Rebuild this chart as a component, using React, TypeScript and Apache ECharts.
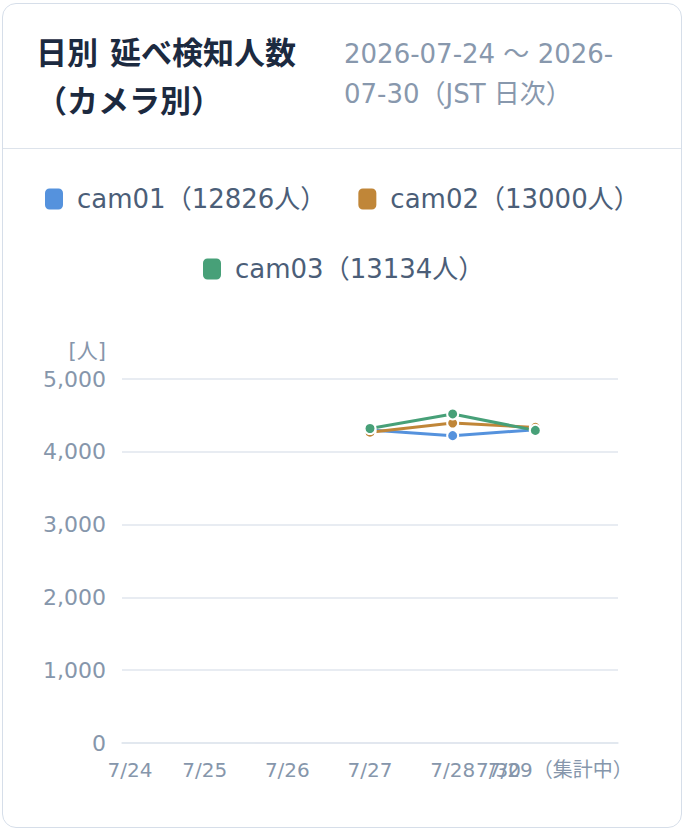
import React, { useEffect, useRef } from 'react';
import * as echarts from 'echarts';

// Daily detections per camera (JST), 7/24 - 7/30. null = no data yet
const dates = ['7/24', '7/25', '7/26', '7/27', '7/28', '7/29（集計中）', '7/30'];
const cameras = ['cam01', 'cam02', 'cam03'];
const cam01 = [null, null, null, 4300, 4222, 4304, null];
const cam02 = [null, null, null, 4270, 4395, 4335, null];
const cam03 = [null, null, null, 4320, 4520, 4294, null];
const totals = [12826, 13000, 13134];
const colors = ['#5592dd', '#c08638', '#47a078'];
const yTicks = [0, 1000, 2000, 3000, 4000, 5000];

const FONT = '"DejaVu Sans", "Noto Sans CJK JP", sans-serif';

const legendName = (i: number) => `${cameras[i]}（${totals[i]}人）`;

// label nudges so the tick labels sit where the original ones do
const labelStyle: Record<string, any> = {
  '7/24': { padding: [0, 0, 0, 16] },
  '7/29（集計中）': { padding: [0, 0, 0, 50] },
  '7/30': { padding: [0, 239, 0, 0] }
};

function DailyCameraChart() {
  const chartRef = useRef<HTMLDivElement>(null);

  useEffect(() => {
    if (!chartRef.current) return;
    const chart = echarts.init(chartRef.current, null, { renderer: 'svg' });

    const legendCommon = {
      orient: 'horizontal' as const,
      icon: 'roundRect',
      padding: 0,
      itemWidth: 18,
      itemHeight: 21,
      itemGap: 32,
      itemStyle: { borderWidth: 0 },
      textStyle: {
        color: '#4b5e78',
        fontSize: 26,
        lineHeight: 28,
        fontFamily: FONT,
        padding: [0, 0, 0, 9]
      }
    };

    const seriesData = [cam01, cam02, cam03];

    const option: echarts.EChartsOption = {
      animation: false,
      textStyle: { fontFamily: FONT },
      legend: [
        { ...legendCommon, left: 45, top: 35, data: [legendName(0), legendName(1)] },
        { ...legendCommon, left: 203, top: 105, data: [legendName(2)] }
      ],
      grid: { left: 122, right: 66, top: 229, bottom: 83 },
      xAxis: {
        type: 'category',
        data: dates.map((d) => (labelStyle[d] ? { value: d, textStyle: labelStyle[d] } : d)),
        boundaryGap: false,
        axisLine: { lineStyle: { color: '#e0e6ee', width: 1.5 } },
        axisTick: { show: false },
        axisLabel: { color: '#8696ab', fontSize: 20, margin: 17, interval: 0 }
      },
      yAxis: {
        type: 'value',
        min: yTicks[0],
        max: yTicks[yTicks.length - 1],
        interval: 1000,
        name: '[人]',
        nameGap: 18,
        nameTextStyle: { color: '#8696ab', fontSize: 21, align: 'right', padding: [0, 16, 0, 0] },
        axisLine: { show: false },
        axisTick: { show: false },
        axisLabel: {
          color: '#8696ab',
          fontSize: 22,
          margin: 16,
          formatter: (v: number) => v.toLocaleString('en-US')
        },
        splitLine: { lineStyle: { color: '#e0e6ee', width: 1.5 } }
      },
      series: seriesData.map((d, i) => ({
        name: legendName(i),
        type: 'line' as const,
        data: d,
        color: colors[i],
        symbol: 'circle',
        symbolSize: 11,
        showSymbol: true,
        lineStyle: { width: 3, color: colors[i] },
        itemStyle: { color: colors[i], borderColor: '#fff', borderWidth: 2 }
      }))
    };

    chart.setOption(option);

    const handleResize = () => chart.resize();
    window.addEventListener('resize', handleResize);
    return () => {
      window.removeEventListener('resize', handleResize);
      chart.dispose();
    };
  }, []);

  return (
    <div
      ref={chartRef}
      style={{ position: 'fixed', left: 0, top: 150, width: 684, height: 676 }}
    />
  );
}

export default function App() {
  return (
    <div>
      <div
        style={{
          position: 'fixed',
          left: 2,
          top: 3,
          width: 678,
          height: 823,
          border: '1.5px solid #d6dee9',
          borderRadius: 14,
          background: '#fff',
          fontFamily: FONT
        }}
      >
        <div
          style={{
            position: 'absolute',
            left: 0,
            top: 0,
            right: 0,
            height: 144,
            borderBottom: '1.5px solid #dde3eb'
          }}
        >
          <div
            style={{
              position: 'absolute',
              left: 33,
              top: 25,
              fontSize: 31,
              lineHeight: '48px',
              fontWeight: 700,
              color: '#1c2a40'
            }}
          >
            <span style={{ marginRight: 12 }}>日別</span>延べ検知人数
            <br />
            （カメラ別）
          </div>
          <div
            style={{
              position: 'absolute',
              left: 341,
              top: 30,
              fontSize: 26,
              lineHeight: '40px',
              color: '#8898ad'
            }}
          >
            2026-07-24 ～ 2026-
            <br />
            07-30（JST 日次）
          </div>
        </div>
      </div>
      <DailyCameraChart />
    </div>
  );
}
